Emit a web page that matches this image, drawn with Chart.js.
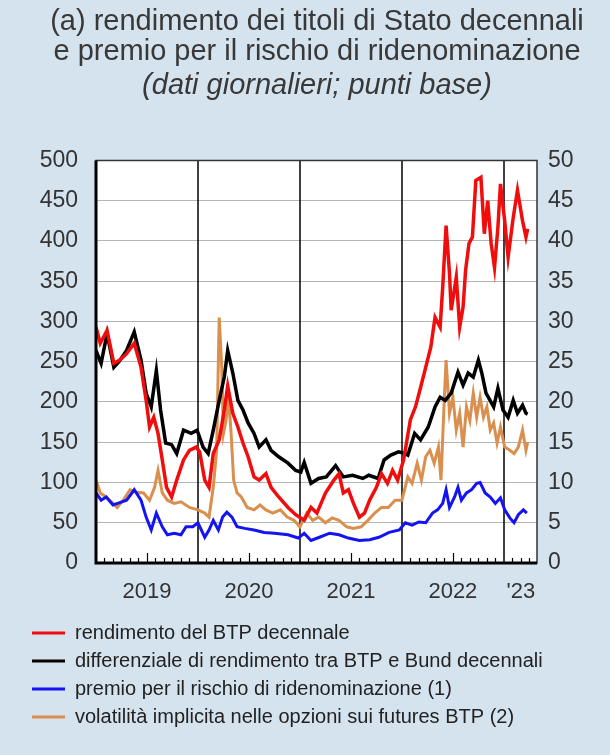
<!DOCTYPE html>
<html>
<head>
<meta charset="utf-8">
<script src="https://cdn.jsdelivr.net/npm/chart.js@4.4.0/dist/chart.umd.min.js"></script>
<style>
  html, body { margin: 0; padding: 0; background: #d5e3ee; }
  #wrap { width: 610px; height: 755px; }
</style>
</head>
<body>
<div id="wrap"><canvas id="grafico" width="610" height="755"></canvas></div>
<script>
// asse x in mesi dall'inizio del 2019 (0 = gennaio 2019)
const anni = ['2019', '2020', '2021', '2022', "'23"];
const posAnni = [6, 18, 30, 42, 50];
const inizioAnni = [12, 24, 36, 48];

// rendimento del BTP decennale (punti base, scala sinistra)
const btpMesi = [0,0.5,1.3,2.1,2.8,3.6,4.5,5.3,5.9,6.3,6.8,7.3,7.8,8.3,8.9,9.5,10.3,11,11.8,12.2,12.8,13.3,13.8,14.5,15.1,15.5,16.1,16.7,17.3,17.9,18.6,19.2,20,20.6,21.5,22.6,23.5,24.5,25.3,26,27,28,28.6,29.1,29.7,30.3,31,31.6,32.2,33,33.6,34.3,34.9,35.5,36.2,37,37.6,38.2,38.8,39.4,39.9,40.5,40.8,41.2,41.6,41.8,42.4,42.8,43.2,43.5,43.9,44.3,44.7,45.3,45.7,46.1,46.5,46.9,47.3,47.6,48.1,48.5,49.1,49.6,50.2,50.6,50.8];
const btpValori = [293,273,289,248,252,260,273,243,202,169,181,161,128,94,82,103,128,140,144,138,103,94,136,153,190,220,186,169,149,132,107,103,111,94,82,69,60,53,69,62,87,103,111,87,91,74,57,62,78,94,111,99,115,103,128,178,194,218,243,268,305,293,342,419,360,314,355,293,318,364,397,405,475,479,409,450,397,367,417,471,425,380,429,463,425,405,415];

// differenziale BTP-Bund (punti base, scala sinistra)
const spreadMesi = [0,0.6,1.3,2.1,2.7,3.6,4.5,5.3,5.9,6.5,7.1,7.6,8.2,8.9,9.5,10.3,11.2,11.9,12.6,13.2,13.8,14.5,15.1,15.5,16.1,16.7,17.3,17.9,18.6,19.2,20,20.6,21.5,22.6,23.5,24.1,24.5,25.3,26.2,27.1,28.2,29.1,30.2,31.4,32.1,33.2,33.9,34.7,35.6,36.4,36.7,37.5,38.2,39.1,39.9,40.5,41.1,41.8,42.6,43.2,43.8,44.4,45,45.4,45.9,46.8,47.3,47.9,48.5,49.1,49.6,50.2,50.6,50.8];
const spreadValori = [264,248,285,243,250,264,287,252,211,194,239,190,149,147,136,165,161,165,144,136,165,202,231,264,236,202,190,174,161,144,153,140,132,124,115,113,125,99,105,107,121,107,109,105,109,105,128,134,138,136,134,161,153,169,194,206,202,211,237,221,236,231,252,236,211,194,217,190,181,202,186,196,186,185];

// premio per il rischio di ridenominazione (punti base, scala sinistra)
const premioMesi = [0,0.6,1.2,2,2.8,3.6,4.5,5.3,5.9,6.5,7.1,7.8,8.4,9.2,10,10.6,11.4,12,12.8,13.3,13.8,14.4,14.9,15.4,16,16.6,17.5,18.6,19.8,21,22.6,23.8,24.5,25.3,26.3,27.5,28.6,29.7,31,32.2,33.3,34.5,35.7,36.4,37.2,38,38.8,39.6,40.2,40.8,41.2,41.6,42.2,42.6,43,43.6,44.2,44.8,45.2,45.8,46.4,47,47.6,48.1,48.7,49.2,49.7,50.3,50.7];
const premioValori = [87,78,82,72,75,78,91,78,57,41,62,45,35,37,35,45,45,50,32,41,53,41,57,63,57,45,43,41,38,37,35,31,37,28,32,37,35,31,28,29,32,38,41,50,47,51,50,62,66,74,91,69,82,94,78,87,91,99,100,87,82,74,81,66,56,50,60,66,62];

// volatilità implicita (scala destra)
const volMesi = [0,0.5,1.2,2.5,3.2,4,4.8,5.6,6.3,6.9,7.3,7.8,8.4,9.2,10,11,12,12.8,13.3,13.8,14.2,14.5,14.8,15,15.3,15.6,15.9,16.2,16.6,17.1,17.8,18.6,19.3,20,20.8,21.7,22.5,23.3,24,24.8,25.5,26.2,27,27.8,28.6,29.5,30.3,31.2,32,32.8,33.6,34.4,35.2,36,36.7,37.2,37.8,38.3,38.8,39.3,39.8,40.3,40.6,41,41.2,41.6,42,42.4,42.8,43.2,43.6,44,44.4,44.8,45.2,45.6,46,46.4,46.8,47.2,47.6,48.1,48.7,49.2,49.7,50.2,50.6,50.8];
const volValori = [10.3,8.7,8.2,6.9,7.8,9.1,8.8,8.7,7.8,9.4,11.5,8.7,7.8,7.4,7.6,6.9,6.6,6.2,5.7,9.4,14.0,30.5,24.3,16.1,17.7,20.6,16.1,10.3,8.7,8.2,6.9,6.6,7.2,6.6,6.2,6.6,5.7,5.3,4.5,6.2,5.3,5.7,5.0,5.6,5.3,4.5,4.3,4.5,5.3,6.2,6.9,6.9,7.8,7.8,10.7,9.9,12.4,10.3,13.2,14.0,12.4,14.4,10.3,20.6,25.2,18.6,20.6,16.5,18.6,14.4,19.4,17.7,21.1,18.1,20.6,18.1,19.4,16.5,17.4,14.9,16.9,14.4,14.0,13.6,14.4,16.5,14.0,15];

const punti = (xs, ys) => xs.map((m, i) => ({ x: m, y: ys[i] }));
const FONT = 'Liberation Sans';

const cornice = {
  id: 'cornice',
  beforeDraw(chart) {
    const { ctx, chartArea: a } = chart;
    ctx.save();
    ctx.fillStyle = '#ffffff';
    ctx.fillRect(a.left, a.top, a.right - a.left, a.bottom - a.top);
    ctx.restore();
  },
  beforeDatasetsDraw(chart) {
    const { ctx, chartArea: a, scales: { x } } = chart;
    ctx.save();
    ctx.strokeStyle = '#000';
    ctx.lineWidth = 1.5;
    inizioAnni.forEach(m => {
      const px = Math.round(x.getPixelForValue(m));
      ctx.beginPath();
      ctx.moveTo(px, a.top);
      ctx.lineTo(px, a.bottom);
      ctx.stroke();
    });
    ctx.lineWidth = 1.2;
    for (let m = 1; m < 52; m++) {
      if (m % 12 === 0) continue;
      const px = Math.round(x.getPixelForValue(m)) + 0.5;
      const len = (m % 12 === 6) ? 10 : 5;
      ctx.beginPath();
      ctx.moveTo(px, a.bottom);
      ctx.lineTo(px, a.bottom - len);
      ctx.stroke();
    }
    ctx.restore();
  },
  afterDatasetsDraw(chart) {
    const { ctx, chartArea: a } = chart;
    ctx.save();
    ctx.strokeStyle = '#333';
    ctx.lineWidth = 1.5;
    ctx.strokeRect(a.left, a.top, a.right - a.left, a.bottom - a.top);
    ctx.strokeStyle = '#000';
    ctx.lineWidth = 3;
    ctx.beginPath();
    ctx.moveTo(a.left, a.top);
    ctx.lineTo(a.left, a.bottom);
    ctx.lineTo(a.right, a.bottom);
    ctx.stroke();
    ctx.restore();
  }
};

new Chart(document.getElementById('grafico'), {
  type: 'line',
  data: {
    datasets: [
      { label: 'rendimento del BTP decennale', data: punti(btpMesi, btpValori), borderColor: '#f00d0d', backgroundColor: '#f00d0d', borderWidth: 3.5, yAxisID: 'y' },
      { label: 'differenziale di rendimento tra BTP e Bund decennali', data: punti(spreadMesi, spreadValori), borderColor: '#000000', backgroundColor: '#000000', borderWidth: 3.5, yAxisID: 'y' },
      { label: 'premio per il rischio di ridenominazione (1)', data: punti(premioMesi, premioValori), borderColor: '#1414f0', backgroundColor: '#1414f0', borderWidth: 3, yAxisID: 'y' },
      { label: 'volatilità implicita nelle opzioni sui futures BTP (2)', data: punti(volMesi, volValori), borderColor: '#da8f4e', backgroundColor: '#da8f4e', borderWidth: 3, yAxisID: 'y2' }
    ]
  },
  options: {
    responsive: false,
    animation: false,
    elements: { point: { radius: 0 }, line: { tension: 0 } },
    layout: { padding: { left: 24, right: 0, top: 0, bottom: 18 } },
    plugins: {
      title: {
        display: true,
        text: ['(a) rendimento dei titoli di Stato decennali', 'e premio per il rischio di ridenominazione'],
        color: '#383838',
        font: { family: FONT, size: 29, weight: 'normal', lineHeight: 1.04 },
        padding: { top: 7, bottom: 0 }
      },
      subtitle: {
        display: true,
        text: '(dati giornalieri; punti base)',
        color: '#383838',
        font: { family: FONT, size: 29, style: 'italic', lineHeight: 1.04 },
        padding: { top: 4, bottom: 59 }
      },
      legend: {
        position: 'bottom',
        align: 'start',
        labels: {
          boxWidth: 33,
          boxHeight: 3,
          padding: 8,
          color: '#222',
          font: { family: FONT, size: 20 },
          generateLabels: chart => Chart.defaults.plugins.legend.labels.generateLabels(chart).map(l => ({ ...l, lineWidth: 0 }))
        }
      },
      tooltip: { enabled: false }
    },
    scales: {
      x: {
        type: 'linear',
        min: 0,
        max: 51.9,
        afterBuildTicks: scale => { scale.ticks = posAnni.map(v => ({ value: v })); },
        afterFit: scale => { scale.height = 52; },
        grid: { display: false, drawTicks: false },
        border: { display: false },
        ticks: {
          autoSkip: false,
          maxRotation: 0,
          padding: 16,
          color: '#333',
          font: { family: FONT, size: 22 },
          callback: value => anni[posAnni.indexOf(value)]
        }
      },
      y: {
        position: 'left',
        min: 0,
        max: 500,
        afterFit: scale => { scale.width = 72; },
        grid: { color: '#b5b5b5', lineWidth: 1, drawTicks: false },
        border: { display: false },
        ticks: { stepSize: 50, padding: 18, color: '#333', font: { family: FONT, size: 23 } }
      },
      y2: {
        position: 'right',
        min: 0,
        max: 50,
        afterFit: scale => { scale.width = 73; },
        grid: { display: false, drawTicks: false },
        border: { display: false },
        ticks: { stepSize: 5, padding: 11, color: '#333', font: { family: FONT, size: 23 } }
      }
    }
  },
  plugins: [cornice]
});
</script>
</body>
</html>
